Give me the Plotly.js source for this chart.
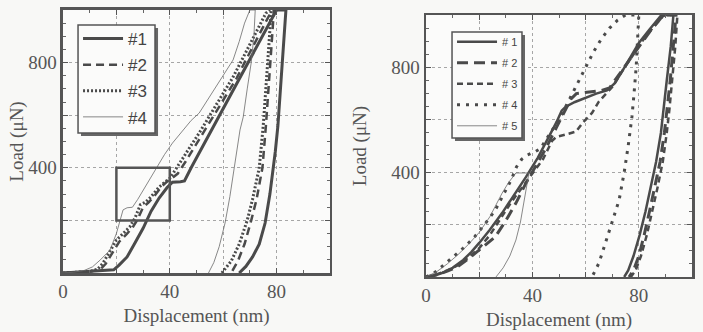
<!DOCTYPE html>
<html>
<head>
<meta charset="utf-8">
<script src="https://cdn.plot.ly/plotly-3.0.1.min.js"></script>
<style>html,body{margin:0;padding:0;background:#f8f8f6;}#chart{width:703px;height:332px;}</style>
</head>
<body>
<div id="chart"></div>
<script>
// ---------- Left panel data (Displacement nm, Load uN) ----------
const L1_x = [0,4,8,12,16,19,21,24,27,30,33,36,39,41,44,45.5,48,52,56,60,64,68,72,76,79,80,83.5,82.5,81.5,80.5,79.5,78.7,77.5,75.7,73.5,71,68.5,66];
const L1_y = [0,2,4,6,8,12,30,61,115,170,235,285,325,345,347,350,400,475,550,625,700,775,850,925,980,1000,1000,850,700,560,460,392,300,190,110,61,25,0];
const L2_x = [0,5,10,14,16,19,21,24,26,28,30,32,34,37,39,41,43,46,49,53,57,61,65,68,71,74,77,78.5,79,78,77,76,74.7,72.5,70.5,68,65.5,63];
const L2_y = [0,2,5,14,35,85,118,150,172,205,250,268,290,330,348,362,378,425,475,540,605,670,740,800,860,920,975,1000,1000,850,700,560,400,280,200,110,45,0];
const L3_x = [0,5,10,13,15,18,20,23,25,27,29,31,33,36,38,40,41,44,47,51,55,59,63.7,67,70,73,76,77.5,78,77,76,75,73.5,71,69,66,63,59.5];
const L3_y = [0,2,6,15,38,90,125,155,175,210,260,270,290,327,345,360,375,420,470,532,600,665,745,810,870,930,988,1000,1000,850,700,560,400,280,200,110,45,0];
const L4_x = [0,4,8,11,14,17.6,20,22.5,24,26,28,30,33,35,38,41,45,48,51,55,60,63.7,66,68,70,72,71.5,70.5,69,67.5,66.3,64,62.5,60.7,58.5,56.5,54.5];
const L4_y = [0,3,10,23,50,87,150,240,248,250,280,315,365,400,450,494,545,580,608,670,750,810,880,950,1000,1000,900,800,700,593,544,392,290,190,100,40,0];
const inset_x = [20,40];
const inset_y = [200,400];

// ---------- Right panel data ----------
const R1_x = [0,3,6,10,14,17,20,24,28.6,33,37.6,42,46,49,51,52.5,56,60,64,68,71,74,77,80,84,87.6,88.5,93,92,90.5,89.3,88.3,86.5,84.5,82.5,80.3,78,76,74.5];
const R1_y = [0,5,15,35,65,95,130,180,244,310,382,455,530,590,635,650,668,685,700,712,740,790,840,893,945,988,1000,1000,880,750,640,550,440,340,250,160,80,25,0];
const R2_x = [0,4,8,12,16,20,23,26,30,33.8,37.6,41,45,49,52,54.5,56.5,61,66,69,72,76,80,84,88,89.5,94,93,91.8,90.6,89.6,88,86,84,82,80,78,76.3];
const R2_y = [0,8,22,40,70,103,125,153,215,282,359,420,490,570,630,680,700,707,712,722,765,820,880,935,985,1000,1000,880,750,640,550,440,340,250,160,80,25,0];
const R3_x = [0,4,8,12,16,20,24,28,32,36,40,44,47.4,49,53,56.4,59,62.4,65,67.7,70,74,78,82,86,89,90,94.5,93.7,92.6,91.5,90.5,89,87,85,83,80.8,78.8,77];
const R3_y = [0,10,25,45,75,110,160,225,285,340,395,450,520,535,545,555,590,626,670,702,725,790,850,910,960,995,1000,1000,880,750,640,550,440,340,250,160,80,25,0];
const R4_x = [0,3,6,10,14,18,22,26,29,32,34,36,38,41,43,45,48,51,54,57,60,63,66,69,72,75,80,79.5,79,78.2,77.4,76,74.5,72.6,69.5,66.5,65,62.4];
const R4_y = [0,15,40,75,110,150,200,255,310,370,420,450,465,478,490,520,570,620,680,740,800,860,910,950,980,1000,1000,900,800,700,611,500,400,294,191,100,53,0];
const R5_x = [0,4,8,12,16,20,24,28.6,31,33.8,38.7,37.6,36.5,35.5,33.8,31.5,29,26.3];
const R5_y = [0,20,50,85,125,170,230,320,360,397,397,332,270,210,141,80,35,0];

const leftNames = ['#1','#2','#3','#4'];
const rightNames = ['# 1','# 2','# 3','# 4','# 5'];
const xTickVals = [0,20,40,60,80,100];
const xTickText = ['0','','40','','80',''];
const yTickVals = [0,200,400,600,800,1000];
const yTickText = ['','','400','','800',''];

const C = '#4a4a4a';
const traces = [
  {x:L1_x,y:L1_y,name:leftNames[0],line:{color:C,width:3},xaxis:'x',yaxis:'y',legend:'legend',legendgroup:'a1'},
  {x:L2_x,y:L2_y,name:leftNames[1],line:{color:C,width:2.5,dash:'8px,5px'},xaxis:'x',yaxis:'y',legend:'legend',legendgroup:'a2'},
  {x:L3_x,y:L3_y,name:leftNames[2],line:{color:C,width:3,dash:'2px,2px'},xaxis:'x',yaxis:'y',legend:'legend',legendgroup:'a3'},
  {x:L4_x,y:L4_y,name:leftNames[3],line:{color:'#6a6a6a',width:0.8},xaxis:'x',yaxis:'y',legend:'legend',legendgroup:'a4'},
  {x:R1_x,y:R1_y,name:rightNames[0],line:{color:C,width:2.5},xaxis:'x2',yaxis:'y2',legend:'legend2',legendgroup:'b1'},
  {x:R2_x,y:R2_y,name:rightNames[1],line:{color:C,width:3,dash:'11px,6px'},xaxis:'x2',yaxis:'y2',legend:'legend2',legendgroup:'b2'},
  {x:R3_x,y:R3_y,name:rightNames[2],line:{color:C,width:2.5,dash:'6px,4px'},xaxis:'x2',yaxis:'y2',legend:'legend2',legendgroup:'b3'},
  {x:R4_x,y:R4_y,name:rightNames[3],line:{color:C,width:3,dash:'3px,6px'},xaxis:'x2',yaxis:'y2',legend:'legend2',legendgroup:'b4'},
  {x:R5_x,y:R5_y,name:rightNames[4],line:{color:'#6a6a6a',width:0.8},xaxis:'x2',yaxis:'y2',legend:'legend2',legendgroup:'b5'}
].map(t => Object.assign({type:'scatter',mode:'lines',hoverinfo:'skip'}, t));

const serifFam = 'Liberation Serif, Times New Roman, serif';
const tickFont = {family:serifFam, size:19, color:'#555'};
const titleFont = {family:serifFam, size:19, color:'#555'};
function xa(domain, anchor){
  return {domain:domain, anchor:anchor, range:[0,100], showline:true, linewidth:2.5, linecolor:'#555', mirror:'allticks',
    ticks:'inside', ticklen:5, tickcolor:'#555', tickwidth:1, tickvals:xTickVals, ticktext:xTickText,
    showgrid:true, gridcolor:'#a6a6a6', griddash:'dot', gridwidth:1, zeroline:false, fixedrange:true,
    minor:{dtick:10, ticks:'inside', ticklen:3, tickcolor:'#666', showgrid:false},
    tickfont:tickFont, title:{text:'Displacement (nm)', font:titleFont, standoff:8}};
}
function ya(domain, anchor, standoff){
  return {domain:domain, anchor:anchor, range:[0,1000], showline:true, linewidth:2.5, linecolor:'#555', mirror:'allticks',
    ticks:'inside', ticklen:5, tickcolor:'#555', tickwidth:1, tickvals:yTickVals, ticktext:yTickText,
    showgrid:true, gridcolor:'#a6a6a6', griddash:'dot', gridwidth:1, zeroline:false, fixedrange:true,
    minor:{dtick:50, ticks:'inside', ticklen:3, tickcolor:'#666', showgrid:false},
    tickfont:tickFont, title:{text:'Load (\u03bcN)', font:titleFont, standoff:standoff}};
}
const boxStyle = {type:'rect', xref:'paper', yref:'paper', layer:'above'};
const layout = {
  width:703, height:332, margin:{l:0,r:0,t:0,b:0},
  paper_bgcolor:'#f8f8f6', plot_bgcolor:'#fbfbfa', showlegend:true,
  xaxis: xa([0.0896,0.4694],'y'), yaxis: ya([0.1777,0.9699],'x',0),
  xaxis2: xa([0.606,0.9844],'y2'), yaxis2: ya([0.1657,0.9548],'x2',20),
  legend:{x:0.111,y:0.9367,xanchor:'left',yanchor:'top',bgcolor:'rgba(0,0,0,0)',borderwidth:0,
    font:{family:'Liberation Sans, Arial, sans-serif',size:17,color:'#444'},itemwidth:40,tracegroupgap:1},
  legend2:{x:0.643,y:0.9178,xanchor:'left',yanchor:'top',bgcolor:'rgba(0,0,0,0)',borderwidth:0,
    font:{family:'Liberation Sans, Arial, sans-serif',size:11,color:'#444'},itemwidth:40,tracegroupgap:2},
  shapes:[
    {type:'rect',xref:'x',yref:'y',x0:inset_x[0],x1:inset_x[1],y0:inset_y[0],y1:inset_y[1],line:{color:'#555',width:2.5},layer:'above'},
    Object.assign({x0:0.1152,x1:0.2248,y0:0.5904,y1:0.9157,fillcolor:'#666',line:{width:0}}, boxStyle),
    Object.assign({x0:0.1110,x1:0.2205,y0:0.5994,y1:0.9247,fillcolor:'#fbfbfa',line:{color:'#555',width:1.5}}, boxStyle),
    Object.assign({x0:0.6472,x1:0.7468,y0:0.5753,y1:0.8946,fillcolor:'#666',line:{width:0}}, boxStyle),
    Object.assign({x0:0.6430,x1:0.7425,y0:0.5843,y1:0.9036,fillcolor:'#fbfbfa',line:{color:'#555',width:1.5}}, boxStyle)
  ]
};
Plotly.newPlot('chart', traces, layout, {staticPlot:true});
</script>
</body>
</html>
